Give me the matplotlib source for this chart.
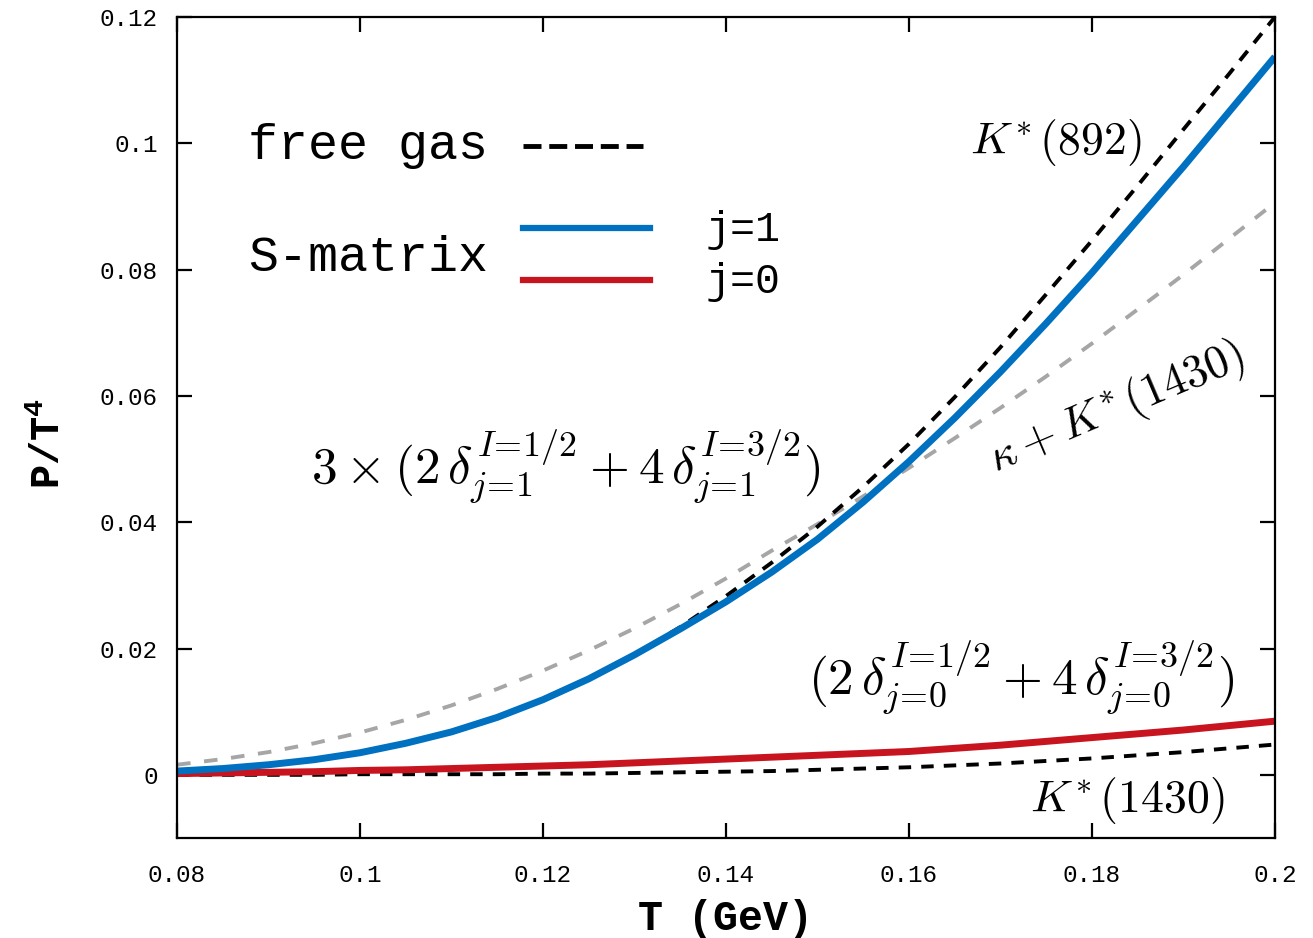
import matplotlib
matplotlib.use("Agg")
import matplotlib.pyplot as plt
from matplotlib.lines import Line2D

plt.rcParams['font.family'] = ['Liberation Mono', 'DejaVu Sans Mono']
plt.rcParams['mathtext.fontset'] = 'cm'
plt.rcParams['mathtext.bf'] = 'Liberation Mono:bold'
plt.rcParams['mathtext.rm'] = 'Liberation Mono'

# temperature grid (GeV)
T = [0.080, 0.085, 0.090, 0.095, 0.100, 0.105, 0.110, 0.115, 0.120, 0.125,
     0.130, 0.135, 0.140, 0.145, 0.150, 0.155, 0.160, 0.165, 0.170, 0.175,
     0.180, 0.185, 0.190, 0.195, 0.200]

# S-matrix j=1
smat_j1 = [0.0006, 0.0010, 0.0016, 0.0024, 0.0035, 0.0050, 0.0068, 0.0091, 0.0119, 0.0152,
           0.0190, 0.0231, 0.0274, 0.0321, 0.0373, 0.0432, 0.0496, 0.0565, 0.0638, 0.0715,
           0.0795, 0.0879, 0.0963, 0.1050, 0.1137]
# S-matrix j=0
smat_j0 = [0.0002, 0.0003, 0.0004, 0.0005, 0.0007, 0.0008, 0.0010, 0.0012, 0.0014, 0.0016,
           0.0019, 0.0022, 0.0025, 0.0028, 0.0031, 0.0034, 0.0037, 0.0042, 0.0047, 0.0053,
           0.0059, 0.0065, 0.0071, 0.0078, 0.0085]
# free gas K*(892)
free_892 = [0.0005, 0.0009, 0.0015, 0.0023, 0.0034, 0.0049, 0.0067, 0.0090, 0.0118, 0.0151,
            0.0190, 0.0234, 0.0283, 0.0336, 0.0393, 0.0456, 0.0524, 0.0598, 0.0677, 0.0761,
            0.0846, 0.0933, 0.1022, 0.1110, 0.1200]
# free gas K*(1430)
free_1430 = [0.0000, 0.0000, 0.0000, 0.0000, 0.0001, 0.0001, 0.0001, 0.0001, 0.0002, 0.0002,
             0.0003, 0.0004, 0.0005, 0.0006, 0.0008, 0.0010, 0.0012, 0.0015, 0.0018, 0.0022,
             0.0026, 0.0031, 0.0036, 0.0042, 0.0048]
# free gas kappa + K*(1430)
free_kappa = [0.0016, 0.0025, 0.0036, 0.0050, 0.0067, 0.0087, 0.0110, 0.0136, 0.0165, 0.0197,
              0.0232, 0.0270, 0.0311, 0.0355, 0.0397, 0.0441, 0.0486, 0.0533, 0.0581, 0.0631,
              0.0683, 0.0737, 0.0792, 0.0849, 0.0906]

xticks = [0.08, 0.1, 0.12, 0.14, 0.16, 0.18, 0.2]
xticklabels = ['0.08', '0.1', '0.12', '0.14', '0.16', '0.18', '0.2']
yticks = [0, 0.02, 0.04, 0.06, 0.08, 0.1, 0.12]
yticklabels = ['0', '0.02', '0.04', '0.06', '0.08', '0.1', '0.12']

blue = '#0070c0'
red = '#c8141e'
gray = '#a6a6a6'

fig = plt.figure(figsize=(13.13, 9.38), dpi=100)
ax = fig.add_axes([0.1348, 0.1066, 0.8362, 0.8753])

ax.plot(T, free_kappa, color=gray, lw=2.8, dashes=(3.5, 3.5))
ax.plot(T, free_1430, color='black', lw=2.8, dashes=(3.2, 2.6))
ax.plot(T, free_892, color='black', lw=2.8, dashes=(3.2, 2.6))
ax.plot(T, smat_j0, color=red, lw=5, solid_capstyle='butt')
ax.plot(T, smat_j1, color=blue, lw=5, solid_capstyle='butt')

ax.set_xlim(0.08, 0.2)
ax.set_ylim(-0.01, 0.12)
ax.set_xticks(xticks)
ax.set_xticklabels(xticklabels)
ax.set_yticks(yticks)
ax.set_yticklabels(yticklabels)
ax.tick_params(direction='in', length=11, width=1.6, labelsize=17.5,
               top=True, right=True)
ax.tick_params(axis='x', pad=19)
ax.tick_params(axis='y', pad=14)
for s in ax.spines.values():
    s.set_linewidth(1.6)

ax.set_xlabel('T (GeV)', fontsize=30, fontweight='bold', labelpad=8)
ax.set_ylabel(r'$\mathbf{P/T^4}$', fontsize=29, math_fontfamily='custom')
ax.yaxis.set_label_coords(-0.099, 0.48)

# legend drawn by hand
ax.text(0.0647, 0.843, 'free gas', transform=ax.transAxes, fontsize=36,
        va='center', ha='left')
ax.add_line(Line2D([0.315, 0.4244], [0.843, 0.843], transform=ax.transAxes,
                   color='black', lw=3.5, dashes=(3.7, 1.6)))
ax.text(0.0647, 0.7065, 'S-matrix', transform=ax.transAxes, fontsize=36,
        va='center', ha='left')
ax.add_line(Line2D([0.315, 0.431], [0.743, 0.743], transform=ax.transAxes,
                   color=blue, lw=4.5))
ax.add_line(Line2D([0.315, 0.431], [0.6797, 0.6797], transform=ax.transAxes,
                   color=red, lw=4.5))
ax.text(0.481, 0.7406, 'j=1', transform=ax.transAxes, fontsize=30,
        va='center', ha='left')
ax.text(0.481, 0.677, 'j=0', transform=ax.transAxes, fontsize=30,
        va='center', ha='left')

# curve annotations
ax.text(0.1761, 0.1001, r'$K^{\!*}(892)$', fontsize=33, ha='center', va='center')
ax.text(0.1839, -0.004, r'$K^{\!*}(1430)$', fontsize=33, ha='center', va='center')
ax.text(0.1827, 0.0581, r'$\kappa + K^{\!*}(1430)$', fontsize=33, ha='center',
        va='center', rotation=23, rotation_mode='anchor')
ax.text(0.1225, 0.0489,
        r'$3\times(2\,\delta^{I\!=\!1/2}_{j\!=\!1} + 4\,\delta^{I\!=\!3/2}_{j\!=\!1})$',
        fontsize=37, ha='center', va='center')
ax.text(0.1722, 0.0154,
        r'$(2\,\delta^{I\!=\!1/2}_{j\!=\!0} + 4\,\delta^{I\!=\!3/2}_{j\!=\!0})$',
        fontsize=37, ha='center', va='center')

fig.savefig('out.png', dpi=100)
